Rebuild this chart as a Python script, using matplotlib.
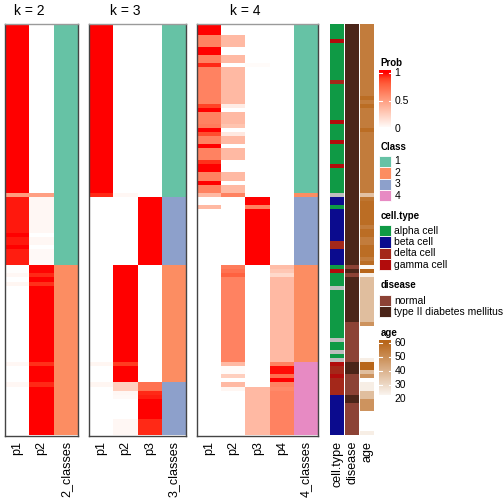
import numpy as np
import matplotlib
matplotlib.use('Agg')
import matplotlib.pyplot as plt
from matplotlib.colors import LinearSegmentedColormap, ListedColormap
from matplotlib.patches import Rectangle

plt.rcParams['font.family'] = ['Liberation Sans', 'DejaVu Sans']

# ---------------- data (run-length: (value, number of rows)) ----------------
k2_p1 = [(1.0, 42), (0.51, 1), (0.96, 9), (1.0, 1), (0.96, 2), (1.0, 1), (0.95, 4),
         (0.01, 2), (0.04, 1), (0.0, 1), (0.05, 1), (0.0, 19), (0.04, 1), (0.0, 4),
         (0.04, 1), (0.0, 12)]
k2_p2 = [(0.0, 42), (0.49, 1), (0.04, 9), (0.0, 1), (0.04, 2), (0.0, 1), (0.03, 4),
         (0.99, 2), (0.93, 1), (1.0, 1), (0.92, 1), (1.0, 19), (0.92, 1), (1.0, 4),
         (0.93, 1), (1.0, 12)]
k2_class = [(1, 60), (2, 42)]

k3_p1 = [(1.0, 42), (0.93, 1), (0.0, 41), (0.05, 1), (0.0, 4), (0.05, 1), (0.0, 12)]
k3_p2 = [(0.0, 42), (0.04, 1), (0.0, 17), (1.0, 24), (0.9, 1), (1.0, 4), (0.25, 2),
         (0.04, 1), (0.03, 1), (0.0, 5), (0.04, 4)]
k3_p3 = [(0.0, 43), (1.0, 17), (0.0, 29), (0.7, 2), (0.93, 1), (0.95, 1), (1.0, 5),
         (0.93, 4)]
k3_class = [(1, 43), (3, 17), (2, 29), (3, 13)]

k4_p1 = [(1.0, 3), (0.63, 3), (1.0, 2), (0.63, 2), (0.93, 1), (0.63, 9), (0.88, 1),
         (1.0, 1), (0.63, 3), (0.66, 1), (1.0, 1), (0.85, 1), (0.63, 2), (1.0, 1),
         (0.63, 3), (0.92, 1), (1.0, 2), (0.63, 2), (1.0, 1), (0.63, 2), (0.36, 1),
         (0.0, 2), (0.36, 1), (0.0, 56)]
k4_p2 = [(0.0, 3), (0.36, 3), (0.0, 2), (0.36, 2), (0.0, 1), (0.36, 9), (0.1, 1),
         (0.0, 1), (0.36, 3), (0.31, 1), (0.0, 1), (0.12, 1), (0.36, 2), (0.0, 1),
         (0.36, 3), (0.0, 1), (0.0, 2), (0.36, 2), (0.0, 1), (0.36, 2), (0.63, 1),
         (0.0, 17), (0.66, 1), (0.7, 1), (0.78, 1), (0.63, 21), (0.36, 1), (0.02, 2),
         (0.25, 1), (0.0, 1), (0.36, 1), (0.05, 1), (0.0, 11)]
k4_p3 = [(0.0, 10), (0.02, 1), (0.0, 32), (1.0, 2), (0.63, 1), (1.0, 14), (0.0, 30),
         (0.36, 12)]
k4_p4 = [(0.0, 60), (0.34, 1), (0.29, 1), (0.2, 1), (0.36, 21), (0.63, 1), (0.98, 2),
         (0.72, 1), (1.0, 1), (0.63, 1), (0.6, 1), (0.63, 11)]
k4_class = [(1, 42), (2, 1), (3, 17), (2, 24), (4, 18)]

cell_type = [("alpha cell", 4), ("gamma cell", 1), ("alpha cell", 9), ("delta cell", 1),
             ("alpha cell", 9), ("gamma cell", 1), ("alpha cell", 4), ("gamma cell", 1),
             ("alpha cell", 5), ("gamma cell", 1), ("alpha cell", 6), (None, 1),
             ("beta cell", 2), ("alpha cell", 1), ("beta cell", 8), ("delta cell", 2),
             ("beta cell", 4), ("alpha cell", 1), ("gamma cell", 1), ("alpha cell", 3),
             (None, 1), ("alpha cell", 12), (None, 1), ("alpha cell", 2), (None, 1),
             ("alpha cell", 1), (None, 1), ("gamma cell", 1), ("delta cell", 2),
             ("gamma cell", 1), ("delta cell", 4), ("beta cell", 10)]
disease = [("type II diabetes mellitus", 60), ("normal", 1), ("type II diabetes mellitus", 1),
           ("normal", 1), ("type II diabetes mellitus", 11), ("normal", 10),
           ("type II diabetes mellitus", 3), ("normal", 5), ("type II diabetes mellitus", 2),
           ("normal", 8)]
age = [(54, 18), (58, 1), (54, 1), (58, 1), (54, 5), (58, 1), (54, 15), (36, 1), (56, 1),
       (58, 6), (54, 1), (58, 2), (54, 2), (58, 3), (54, 1), (58, 1), (21.5, 1), (60, 1),
       (24, 1), (37, 11), (48, 1), (20, 8), (24.5, 1), (60, 2), (37, 1), (48, 1), (20, 1),
       (24.5, 2), (37, 2), (48, 3), (20, 5), (24.5, 1)]

class_labels = ["1", "2", "3", "4"]
class_colors = ["#66C2A5", "#FC8D62", "#8DA0CB", "#E78AC3"]
cell_types = ["alpha cell", "beta cell", "delta cell", "gamma cell"]
cell_colors = ["#0F9A45", "#0B0B8E", "#A4281A", "#B20C0C"]
na_color = "#BEBEBE"
diseases = ["normal", "type II diabetes mellitus"]
disease_colors = ["#8C4235", "#4B2519"]
prob_ticks = [0, 0.5, 1]
age_ticks = [20, 30, 40, 50, 60]


def expand(runs):
    out = []
    for v, n in runs:
        out.extend([v] * n)
    return out


# ---------------- colours ----------------
prob_stops = [(0.0, (255, 255, 255)), (0.1, (255, 236, 229)), (0.2, (255, 217, 203)),
              (0.3, (255, 198, 178)), (0.4, (255, 178, 154)), (0.5, (255, 158, 129)),
              (0.6, (255, 137, 105)), (0.7, (255, 115, 82)), (0.8, (255, 94, 60)),
              (0.9, (255, 62, 34)), (1.0, (255, 0, 0))]
prob_cmap = LinearSegmentedColormap.from_list(
    "prob", [(t, tuple(c / 255 for c in rgb)) for t, rgb in prob_stops])
age_cmap = LinearSegmentedColormap.from_list("age", ["#FFFFFF", "#B8661A"])
class_cmap = ListedColormap(class_colors)
cell_cmap = ListedColormap(cell_colors + [na_color])
dis_cmap = ListedColormap(disease_colors)

W = H = 504.0
TOP, BOT = 24.0, 435.5
N = len(expand(k2_class))

fig = plt.figure(figsize=(5.04, 5.04), dpi=100)
fig.patch.set_facecolor("white")


def px_axes(x0, y0, x1, y1):
    return fig.add_axes([x0 / W, 1 - y1 / H, (x1 - x0) / W, (y1 - y0) / H])


LABEL_FS = 9
panels = [
    ("k = 2", 5.0, 78.3, [k2_p1, k2_p2], k2_class),
    ("k = 3", 89.3, 186.0, [k3_p1, k3_p2, k3_p3], k3_class),
    ("k = 4", 197.3, 318.3, [k4_p1, k4_p2, k4_p3, k4_p4], k4_class),
]

for title, x0, x1, probs, cls in panels:
    k = len(probs)
    ax = px_axes(x0, TOP, x1, BOT)
    P = np.column_stack([expand(p) for p in probs])
    C = np.array(expand(cls))[:, None] - 1
    ax.imshow(P, cmap=prob_cmap, vmin=0, vmax=1, aspect='auto',
              interpolation='nearest', extent=(0, k, N, 0))
    ax.imshow(C, cmap=class_cmap, vmin=-0.5, vmax=3.5, aspect='auto',
              interpolation='nearest', extent=(k, k + 1, N, 0))
    ax.set_xlim(0, k + 1)
    ax.set_ylim(N, 0)
    ax.set_yticks([])
    ax.set_xticks(np.arange(k + 1) + 0.5)
    ax.set_xticklabels([f"p{i+1}" for i in range(k)] + [f"{k}_classes"],
                       rotation=90, fontsize=LABEL_FS, va='top', ha='center')
    ax.tick_params(axis='x', length=0, pad=4)
    for s in ['left', 'right', 'bottom']:
        ax.spines[s].set_color('#444444')
        ax.spines[s].set_linewidth(1.0)
    ax.spines['top'].set_color('#9A9A9A')
    ax.spines['top'].set_linewidth(1.0)
    cx = x0 + (x1 - x0) * k / (k + 1) / 2
    fig.text(cx / W, 1 - 15 / H, title, ha='center', va='baseline', fontsize=10)

# ---------------- annotation columns ----------------
ct_codes = np.array([cell_types.index(v) if v is not None else 4 for v in expand(cell_type)])[:, None]
dis_codes = np.array([diseases.index(v) for v in expand(disease)])[:, None]
age_vals = np.array(expand(age), dtype=float)[:, None]

annos = [("cell.type", 330.0, 344.0, ct_codes, cell_cmap, -0.5, 4.5),
         ("disease", 345.0, 359.0, dis_codes, dis_cmap, -0.5, 1.5),
         ("age", 360.0, 374.0, age_vals, age_cmap, 20, 60)]
for name, x0, x1, vals, cmap, vmin, vmax in annos:
    ax = px_axes(x0, TOP, x1, BOT)
    ax.imshow(vals, cmap=cmap, vmin=vmin, vmax=vmax, aspect='auto',
              interpolation='nearest', extent=(0, 1, N, 0))
    ax.set_xlim(0, 1)
    ax.set_ylim(N, 0)
    ax.set_yticks([])
    ax.set_xticks([0.5])
    ax.set_xticklabels([name], rotation=90, fontsize=LABEL_FS, va='top', ha='center')
    ax.tick_params(axis='x', length=0, pad=4)
    for s in ax.spines.values():
        s.set_visible(False)

# ---------------- legends (pixel-coordinate overlay) ----------------
lg = fig.add_axes([0, 0, 1, 1])
lg.set_xlim(0, W)
lg.set_ylim(H, 0)
lg.axis('off')

LX = 379.3
KW = 12.0
TX = 394.5
TFS = 7
LFS = 7.5


def legend_title(y, text):
    lg.text(LX + 1, y, text, fontsize=TFS, fontweight='bold', ha='left', va='center')


def color_bar(y_top, y_bot, v_at, ticks, cmap, vmin, vmax):
    # v_at: function value -> pixel y
    vt = vmin + (vmax - vmin) * 0  # placeholder
    n = 200
    ys = np.linspace(y_top, y_bot, n)
    # invert mapping pixel -> value
    (ya, va_), (yb, vb) = v_at
    vals = va_ + (ys - ya) * (vb - va_) / (yb - ya)
    lg.imshow(vals[:, None], cmap=cmap, vmin=vmin, vmax=vmax, aspect='auto',
              interpolation='bilinear', extent=(LX, LX + KW, y_bot, y_top), zorder=1)
    for t in ticks:
        y = ya + (t - va_) * (yb - ya) / (vb - va_)
        if y_top <= y <= y_bot:
            lg.plot([LX, LX + 2.5], [y, y], color='white', lw=0.8, zorder=2)
            lg.plot([LX + KW - 2.5, LX + KW], [y, y], color='white', lw=0.8, zorder=2)
        lab = f"{t:g}"
        lg.text(TX, y, lab, fontsize=LFS, ha='left', va='center')


legend_title(63.5, "Prob")
color_bar(70.7, 127.3, ((73.0, 1.0), (129.0, 0.0)), prob_ticks, prob_cmap, 0, 1)

legend_title(147.0, "Class")
for i, (lab, col) in enumerate(zip(class_labels, class_colors)):
    y0 = 155.8 + i * 11.4
    lg.add_patch(Rectangle((LX, y0), KW, 11.4, facecolor=col, edgecolor='white', lw=0.6))
    lg.text(TX, y0 + 5.7, lab, fontsize=LFS, ha='left', va='center')

legend_title(216.0, "cell.type")
for i, (lab, col) in enumerate(zip(cell_types, cell_colors)):
    y0 = 224.8 + i * 11.4
    lg.add_patch(Rectangle((LX, y0), KW, 11.4, facecolor=col, edgecolor='white', lw=0.6))
    lg.text(TX, y0 + 5.7, lab, fontsize=LFS, ha='left', va='center')

legend_title(285.5, "disease")
for i, (lab, col) in enumerate(zip(diseases, disease_colors)):
    y0 = 295.4 + i * 11.0
    lg.add_patch(Rectangle((LX, y0), KW, 11.0, facecolor=col, edgecolor='white', lw=0.6))
    lg.text(TX, y0 + 5.5, lab, fontsize=LFS, ha='left', va='center')

legend_title(333.0, "age")
color_bar(340.7, 395.0, ((342.7, 60.0), (399.0, 20.0)), age_ticks, age_cmap, 20, 60)

lg.set_xlim(0, W)
lg.set_ylim(H, 0)

fig.savefig("out.png", dpi=100, facecolor="white")
